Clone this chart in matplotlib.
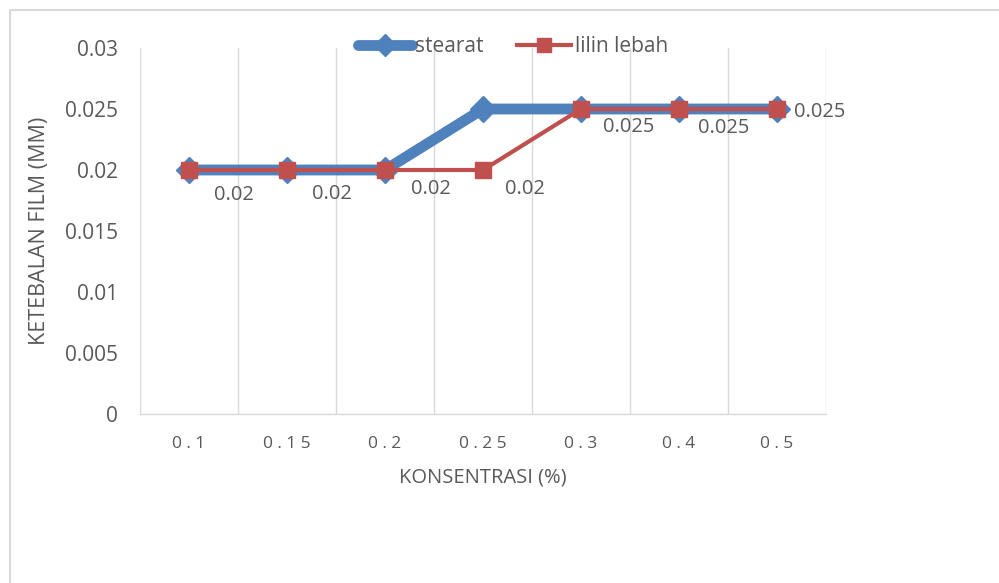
import matplotlib.pyplot as plt
import matplotlib.patches as patches
import numpy as np

categories = ["0.1", "0.15", "0.2", "0.25", "0.3", "0.4", "0.5"]
stearat = [0.02, 0.02, 0.02, 0.025, 0.025, 0.025, 0.025]
lilin_lebah = [0.02, 0.02, 0.02, 0.02, 0.025, 0.025, 0.025]
y_ticks = [0, 0.005, 0.01, 0.015, 0.02, 0.025, 0.03]
y_tick_labels = ["0", "0.005", "0.01", "0.015", "0.02", "0.025", "0.03"]

# label offsets (points) for the lilin lebah data labels, as Excel placed them
label_offsets = [(32, -18), (32, -17), (33, -14), (30, -14), (34, -13), (32, -14), (31, -2)]

text_color = "#595959"
grid_color = "#d9d9d9"
blue = "#4f81bd"
red = "#c0504d"

plt.rcParams["font.family"] = ["Open Sans", "DejaVu Sans"]

my_dpi = 100
fig = plt.figure(figsize=(999 / my_dpi, 583 / my_dpi), dpi=my_dpi)
ax = fig.add_axes([140 / 999, 1 - 414 / 583, 686 / 999, 366 / 583])

# chart border
fig.patches.append(patches.Rectangle((10 / 999, -0.1), 1.2, (583 - 10) / 583 + 0.1,
                                     transform=fig.transFigure, fill=False,
                                     edgecolor=grid_color, linewidth=1.5))

x = np.arange(len(categories))

ax.plot(x, stearat, color=blue, linewidth=7.8, marker="D", markersize=13,
        markerfacecolor=blue, markeredgecolor=blue, solid_capstyle="round",
        label="stearat", zorder=3)
ax.plot(x, lilin_lebah, color=red, linewidth=3, marker="s", markersize=11.5,
        markerfacecolor=red, markeredgecolor=red, label="lilin lebah", zorder=4)

for xi, v, off in zip(x, lilin_lebah, label_offsets):
    ax.annotate(str(v), (xi, v), xytext=off, textcoords="offset points",
                ha="center", va="center", fontsize=14.5, color=text_color)

# Excel spreads the category labels out, so put spaces between characters
spaced = ["\u2005".join(c) for c in categories]

ax.set_xlim(-0.5, len(categories) - 0.5)
ax.set_ylim(0, 0.03)
ax.set_xticks(x)
ax.set_xticklabels(spaced)
ax.set_xticks(np.arange(len(categories) + 1) - 0.5, minor=True)
ax.set_yticks(y_ticks)
ax.set_yticklabels(y_tick_labels)
ax.grid(axis="x", which="minor", color=grid_color, linewidth=1)
ax.set_axisbelow(True)

ax.tick_params(axis="both", which="both", length=0, labelcolor=text_color)
ax.tick_params(axis="x", pad=16, labelsize=12.5)
ax.tick_params(axis="y", pad=16, labelsize=15)

for s in ["top", "right", "left"]:
    ax.spines[s].set_visible(False)
ax.spines["bottom"].set_color(grid_color)
ax.spines["bottom"].set_linewidth(1)

ax.set_xlabel("KONSENTRASI (%)", color=text_color, fontsize=14.5, va="center")
ax.set_ylabel("KETEBALAN FILM (MM)", color=text_color, fontsize=15.5, va="center")
ax.xaxis.set_label_coords(0.5, (414 - 478) / 366)
ax.yaxis.set_label_coords((40 - 140) / 686, 0.5)

leg = fig.legend(loc="center", bbox_to_anchor=(513 / 999, 1 - 47 / 583), ncol=2,
                 frameon=False, fontsize=15, handlelength=2.6, handletextpad=0.15,
                 columnspacing=1.6, labelcolor=text_color, markerscale=0.9)

fig.savefig("out.png", dpi=my_dpi)
